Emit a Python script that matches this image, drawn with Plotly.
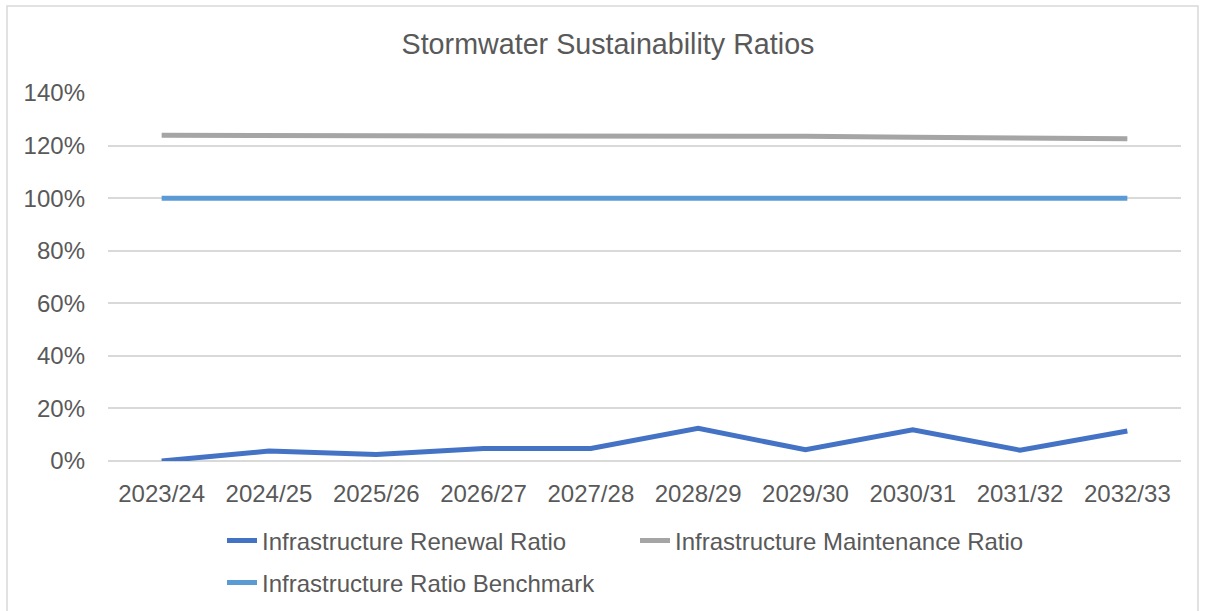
import plotly.graph_objects as go

# Financial years on the category axis
years = ["2023/24", "2024/25", "2025/26", "2026/27", "2027/28",
         "2028/29", "2029/30", "2030/31", "2031/32", "2032/33"]

# Ratios as fractions (plotted with a percentage tick format)
renewal_ratio = [0.000, 0.038, 0.025, 0.048, 0.048, 0.124, 0.043, 0.119, 0.041, 0.114]
maintenance_ratio = [1.239, 1.239, 1.238, 1.238, 1.237, 1.236, 1.235, 1.232, 1.229, 1.226]
benchmark_ratio = [1.0] * 10

W, H = 1205, 611
L, R, T, B = 108, 24, 93, 150
pw, ph = W - L - R, H - T - B

text_color = "#595959"
font_family = "Liberation Sans, Arial, sans-serif"

fig = go.Figure()
fig.add_trace(go.Scatter(x=years, y=renewal_ratio, mode="lines",
                         name="Infrastructure Renewal Ratio",
                         line=dict(color="#4472C4", width=5),
                         legend="legend"))
fig.add_trace(go.Scatter(x=years, y=maintenance_ratio, mode="lines",
                         name="Infrastructure Maintenance Ratio",
                         line=dict(color="#A5A5A5", width=5),
                         legend="legend"))
fig.add_trace(go.Scatter(x=years, y=benchmark_ratio, mode="lines",
                         name="Infrastructure Ratio Benchmark",
                         line=dict(color="#5B9BD5", width=5),
                         legend="legend2"))


def px_x(x):
    return (x - L) / pw


def px_y(y):
    return (H - B - y) / ph


legend_font = dict(family=font_family, size=24, color=text_color)
legend_left = 222 / W

fig.update_layout(
    width=W, height=H,
    margin=dict(l=L, r=R, t=T, b=B, autoexpand=False),
    paper_bgcolor="white", plot_bgcolor="white",
    font=dict(family=font_family, color=text_color, size=24),
    title=dict(text="Stormwater Sustainability Ratios",
               x=608 / W, xref="container", xanchor="center",
               y=1 - 44 / H, yref="container", yanchor="middle",
               font=dict(family=font_family, size=28.7, color=text_color)),
    xaxis=dict(type="category", range=[-0.5, 9.5], showgrid=False,
               showline=False, zeroline=False, ticks="",
               tickfont=dict(size=24, color=text_color),
               ticklabelstandoff=16),
    yaxis=dict(range=[0, 1.4], dtick=0.2, tickformat=".0%",
               showgrid=True, gridcolor="#D9D9D9", gridwidth=1.5,
               zeroline=True, zerolinecolor="#D9D9D9", zerolinewidth=1.5,
               showline=False, ticks="",
               tickfont=dict(size=24, color=text_color),
               ticklabelstandoff=22),
    legend=dict(orientation="h", x=legend_left, y=1 - 541 / H,
                xref="container", yref="container",
                xanchor="left", yanchor="middle", font=legend_font,
                entrywidth=368, entrywidthmode="pixels",
                bgcolor="rgba(0,0,0,0)"),
    legend2=dict(orientation="h", x=legend_left, y=1 - 583 / H,
                 xref="container", yref="container",
                 xanchor="left", yanchor="middle", font=legend_font,
                 bgcolor="rgba(0,0,0,0)"),
    showlegend=True,
    shapes=[dict(type="rect", xref="paper", yref="paper",
                 x0=px_x(7), x1=px_x(1198), y0=px_y(614), y1=px_y(6),
                 line=dict(color="#D9D9D9", width=1.5),
                 fillcolor="rgba(0,0,0,0)", layer="below")],
)

fig.write_html("out.html")
